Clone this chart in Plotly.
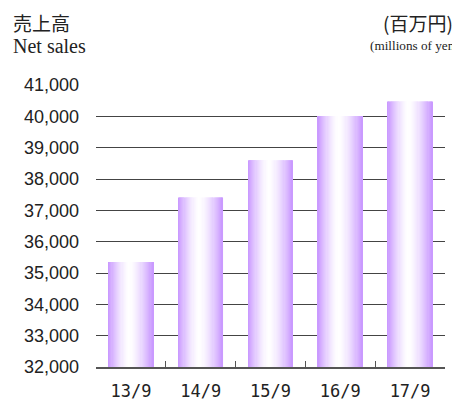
import plotly.graph_objects as go

categories = ["13/9", "14/9", "15/9", "16/9", "17/9"]
net_sales = [35350, 37410, 38600, 40010, 40470]
y_ticks = [32000, 33000, 34000, 35000, 36000, 37000, 38000, 39000, 40000, 41000]
y_tick_labels = ["32,000", "33,000", "34,000", "35,000", "36,000",
                 "37,000", "38,000", "39,000", "40,000", "41,000"]

# The page body has an 8px margin; size the figure so it ends at the window edge.
OFF = 8
W, H = 460 - OFF, 401 - OFF
L, R, T, B = 96 - OFF, 15, 85 - OFF, 34

BAR_W = 0.64
N = 40
edge = (200, 150, 255)
white = (255, 255, 255)
center = 0.47


def strip_color(t):
    d = abs(t - center) / (1 - center if t > center else center)
    d = min(1.0, d) ** 1.5
    c = [round(white[i] + (edge[i] - white[i]) * d) for i in range(3)]
    return f"rgb({c[0]},{c[1]},{c[2]})"


fig = go.Figure()
step = BAR_W / N
for k in range(N):
    off = -BAR_W / 2 + k * step
    w = min(step * 1.6, BAR_W / 2 - off)
    fig.add_trace(go.Bar(
        x=categories, y=net_sales,
        offset=off, width=w,
        marker=dict(color=strip_color((k + 0.5) / N), line=dict(width=0)),
        showlegend=False, hoverinfo="skip",
    ))

fig.update_layout(
    width=W, height=H,
    margin=dict(l=L, r=R, t=T, b=B, pad=0),
    paper_bgcolor="white", plot_bgcolor="white",
    barmode="overlay",
    showlegend=False,
    xaxis=dict(
        type="category",
        automargin=False,
        showgrid=False,
        showline=True, linecolor="#555", linewidth=1.5,
        ticks="inside", tickson="boundaries", ticklen=6, tickcolor="#555", tickwidth=1.2,
        tickfont=dict(family="DejaVu Sans Mono", size=17, color="#222"),
        ticklabelstandoff=8,
    ),
    yaxis=dict(
        range=[32000, 41000],
        automargin=False,
        tickvals=y_ticks, ticktext=y_tick_labels,
        showgrid=True, gridcolor="#444", gridwidth=1.4,
        showline=False, zeroline=False,
        ticks="",
        tickfont=dict(family="Liberation Sans", size=18, color="#222"),
        ticklabelstandoff=16,
    ),
)

pw = W - L - R
ph = H - T - B


def px(x):
    return (x - OFF - L) / pw


def py(y):
    return (H - B - (y - OFF)) / ph


annots = [
    dict(text="売上高", x=px(11), y=py(22), xanchor="left",
         font=dict(family="Noto Sans CJK JP", size=19, color="#222")),
    dict(text="Net sales", x=px(11), y=py(46), xanchor="left",
         font=dict(family="Liberation Serif", size=20, color="#222")),
    dict(text="(百万円)", x=px(455), y=py(22), xanchor="right",
         font=dict(family="Noto Sans CJK JP", size=19, color="#222")),
    dict(text="(millions of yen)", x=px(368), y=py(46), xanchor="left",
         font=dict(family="Liberation Serif", size=13.2, color="#222")),
]
for a in annots:
    fig.add_annotation(xref="paper", yref="paper", showarrow=False,
                       yanchor="middle", **a)

fig.write_html("out.html")
